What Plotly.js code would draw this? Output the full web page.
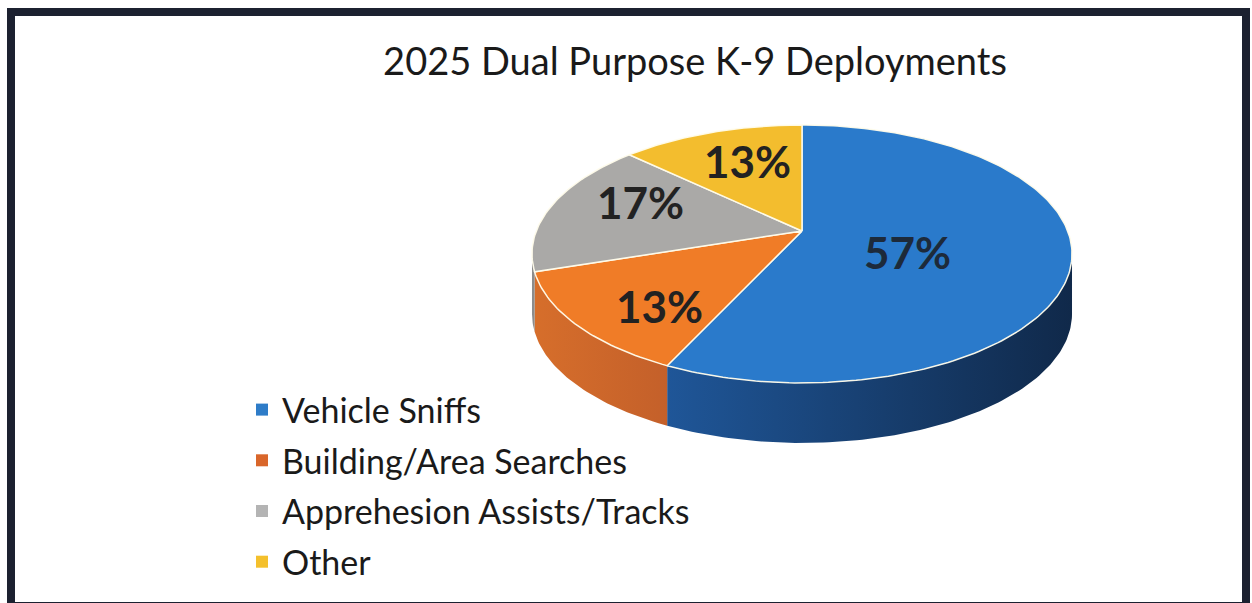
<!DOCTYPE html>
<html>
<head>
<meta charset="utf-8">
<script src="https://cdn.plot.ly/plotly-3.0.1.min.js"></script>
<style>html,body{margin:0;padding:0;background:#fff;}#chart{width:1252px;height:603px;}</style>
</head>
<body>
<div id="chart"></div>
<script>
// ---- data ----
const categories = ['Vehicle Sniffs', 'Building/Area Searches', 'Apprehesion Assists/Tracks', 'Other'];
const values = [57, 13, 17, 13];
const percentLabels = ['57%', '13%', '17%', '13%'];

// ---- styles ----
const topColors = ['#2a7acb', '#f07c27', '#aaa9a7', '#f3bd2e'];
const legendColors = ['#2e7cc8', '#d9662a', '#b4b4b4', '#f4c02c'];
const sideGradients = [
  [[0, '#1f5698'], [1, '#10294a']],
  [[0, '#d66e2b'], [1, '#c4602a']],
  [[0, '#8c8c8c'], [1, '#8c8c8c']],
  [[0, '#c99a22'], [1, '#c99a22']]
];
const labelColors = ['#1d2a3a', '#222222', '#222222', '#222222'];
const labelR = [0.40, 0.66, 0.64, 0.56];
const labelShift = [-10, -16, 12, 11];

// projection of a tilted disc with perspective (pixel space axes)
const CX = 802, CY = 231, RA = 265.7, RB = 124.9, K = 0.178, DEPTH = 60;
function proj(theta, r) {
  const u = r * Math.sin(theta), v = r * Math.cos(theta);
  const d = 1 + K * v;
  return [CX + RA * u / d, CY - RB * v / d];
}
const deg = Math.PI / 180;
function arc(a, b) {
  const pts = [];
  const n = Math.max(2, Math.ceil((b - a) / deg));
  for (let i = 0; i <= n; i++) pts.push(proj(a + (b - a) * i / n, 1));
  return pts;
}

const total = values.reduce((s, v) => s + v, 0);
const starts = [], ends = [];
let acc = 0;
values.forEach(v => { starts.push(acc / total * 2 * Math.PI); acc += v; ends.push(acc / total * 2 * Math.PI); });

const visA = Math.acos(-K), visB = 2 * Math.PI - Math.acos(-K);
const traces = [];

// side walls
values.forEach((v, i) => {
  const a = Math.max(starts[i], visA), b = Math.min(ends[i], visB);
  if (b <= a) return;
  const topPts = arc(a, b);
  const botPts = topPts.slice().reverse().map(p => [p[0], p[1] + DEPTH]);
  const all = topPts.concat(botPts);
  traces.push({
    type: 'scatter', mode: 'lines',
    x: all.map(p => p[0]), y: all.map(p => p[1]),
    fill: 'toself', line: {width: 0, color: sideGradients[i][0][1]},
    fillcolor: sideGradients[i][0][1],
    fillgradient: {type: 'horizontal', colorscale: sideGradients[i]},
    hoverinfo: 'skip', showlegend: false
  });
});

// top faces
values.forEach((v, i) => {
  const pts = [[CX, CY]].concat(arc(starts[i], ends[i])).concat([[CX, CY]]);
  traces.push({
    type: 'scatter', mode: 'lines',
    x: pts.map(p => p[0]), y: pts.map(p => p[1]),
    fill: 'toself', fillcolor: topColors[i],
    line: {width: 1.5, color: 'rgba(255,252,235,0.95)'},
    hoverinfo: 'text', text: categories[i] + ': ' + percentLabels[i],
    showlegend: false
  });
});

// labels
const annotations = values.map((v, i) => {
  const p = proj((starts[i] + ends[i]) / 2, labelR[i]);
  return {
    x: p[0], y: p[1], xref: 'x', yref: 'y', text: percentLabels[i], showarrow: false,
    xanchor: 'center', yanchor: 'middle', yshift: labelShift[i],
    font: {family: 'Lato, sans-serif', size: 44, color: labelColors[i], weight: 'bold'}
  };
});

// legend entries
categories.forEach((c, i) => {
  traces.push({
    type: 'scatter', mode: 'markers', x: [null], y: [null], name: c,
    legendgroup: 'g' + i,
    marker: {symbol: 'square', size: 12, color: legendColors[i]},
    showlegend: true
  });
});

const layout = {
  width: 1252, height: 603,
  margin: {l: 0, r: 0, t: 0, b: 0},
  paper_bgcolor: '#ffffff', plot_bgcolor: '#ffffff',
  xaxis: {range: [0, 1252], visible: false, fixedrange: true},
  yaxis: {range: [603, 0], visible: false, fixedrange: true},
  title: {
    text: '2025 Dual Purpose K-9 Deployments',
    x: 695 / 1252, xanchor: 'center', y: 1 - 62 / 603, yanchor: 'middle',
    font: {family: 'Lato, sans-serif', size: 38, color: '#1a1a1a'}
  },
  showlegend: true,
  legend: {
    x: 242 / 1252, xanchor: 'left', y: 1 - 381 / 603, yanchor: 'top',
    traceorder: 'grouped', tracegroupgap: 3.5,
    font: {family: 'Lato, sans-serif', size: 34, color: '#1a1a1a'},
    bgcolor: 'rgba(0,0,0,0)'
  },
  annotations: annotations,
  shapes: [{
    type: 'rect', xref: 'x', yref: 'y', x0: 11, x1: 1246, y0: 12, y1: 606,
    line: {color: '#1c2130', width: 8}, layer: 'above'
  }]
};

Plotly.newPlot('chart', traces, layout, {displayModeBar: false, staticPlot: true});
</script>
</body>
</html>
